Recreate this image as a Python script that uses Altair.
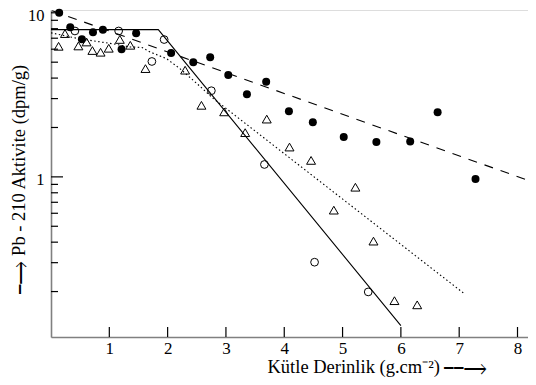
import altair as alt
import pandas as pd

# ---- data ----
filled_x = [0.14, 0.33, 0.53, 0.72, 0.89, 1.21, 1.46, 2.06, 2.44, 2.73, 3.04, 3.36, 3.69, 4.08, 4.49, 5.02, 5.58, 6.16, 6.63, 7.28]
filled_y = [10.0, 8.16, 6.9, 7.6, 7.88, 6.0, 7.5, 5.69, 5.0, 5.36, 4.18, 3.19, 3.8, 2.51, 2.15, 1.75, 1.63, 1.64, 2.48, 0.97]

open_x = [0.41, 1.16, 1.73, 1.94, 2.75, 3.66, 4.52, 5.44]
open_y = [7.75, 7.75, 5.05, 6.87, 3.35, 1.19, 0.302, 0.199]

tri_x = [0.13, 0.24, 0.47, 0.61, 0.71, 0.85, 0.99, 1.18, 1.36, 1.62, 2.30, 2.58, 2.97, 3.33, 3.70, 4.09, 4.46, 4.85, 5.22, 5.53, 5.89, 6.28]
tri_y = [6.25, 7.47, 6.28, 6.64, 5.89, 5.75, 6.08, 6.88, 6.34, 4.57, 4.47, 2.73, 2.49, 1.86, 2.25, 1.52, 1.26, 0.627, 0.865, 0.406, 0.176, 0.166]

solid_x = [0.0, 1.84, 6.0]
solid_y = [7.9, 7.9, 0.124]

dash_x = [0.02, 8.26]
dash_y = [10.3, 0.93]

dot_x = [0.0, 0.47, 1.04, 1.36, 1.56, 1.70, 1.98, 2.21, 2.50, 2.78, 7.08]
dot_y = [7.55, 6.96, 6.49, 6.19, 6.15, 5.77, 5.26, 4.57, 3.71, 3.01, 0.195]

x_ticks = [1, 2, 3, 4, 5, 6, 7, 8]
y_major = [1, 10]
y_minor = [0.2, 0.3, 0.4, 0.5, 0.6, 0.7, 0.8, 0.9, 2, 3, 4, 5, 6, 7, 8, 9]

FONT = "Liberation Serif"
W, H = 477, 327

xs = alt.Scale(domain=[0, 8.18], nice=False, zero=False)
ys = alt.Scale(type="log", domain=[0.1057, 10.4], nice=False)

def df(x, y):
    return pd.DataFrame({"x": x, "y": y})

X0 = alt.X("x:Q", scale=xs)
Y0 = alt.Y("y:Q", scale=ys)

xaxis = alt.Axis(values=x_ticks, ticks=False, tickSize=0, grid=False, labelFont=FONT,
                 labelFontSize=17, labelColor="black", labelPadding=3, labelFlush=False,
                 format="d", domainColor="#808080", domainWidth=1.6,
                 title="Kütle Derinlik (g.cm⁻²) ⎯⎯⟶", titleFont=FONT, titleFontSize=18.5,
                 titleFontWeight="normal", titleColor="black", titleAlign="left",
                 titleAnchor="start", titleX=216, titleY=35, titleBaseline="alphabetic")
yaxis = alt.Axis(values=y_major, ticks=False, tickSize=0, grid=False, labelFont=FONT,
                 labelFontSize=16.5, labelColor="black", labelPadding=7, labelOffset=3,
                 labelFlush=False, format="d", domainColor="#808080", domainWidth=1.6,
                 title="⎯⟶ Pb - 210 Aktivite (dpm/g)", titleFont=FONT, titleFontSize=18.5,
                 titleFontWeight="normal", titleColor="black", titleAngle=270,
                 titleAlign="left", titleX=-27, titleY=283, titleBaseline="alphabetic")

filled = alt.Chart(df(filled_x, filled_y)).mark_point(
    shape="circle", filled=True, size=64, color="black", opacity=1
).encode(x=alt.X("x:Q", scale=xs, axis=xaxis), y=alt.Y("y:Q", scale=ys, axis=yaxis))

opn = alt.Chart(df(open_x, open_y)).mark_point(
    shape="circle", filled=False, size=60, color="black", strokeWidth=1, opacity=1
).encode(x=X0, y=Y0)

tri = alt.Chart(df(tri_x, tri_y)).mark_point(
    shape="triangle-up", filled=False, size=80, color="black", strokeWidth=1, opacity=1
).encode(x=X0, y=Y0)

solid = alt.Chart(df(solid_x, solid_y)).mark_line(color="black", strokeWidth=1.1, clip=True).encode(x=X0, y=Y0)
dashed = alt.Chart(df(dash_x, dash_y)).mark_line(color="black", strokeWidth=1.1, strokeDash=[9, 8], clip=True).encode(x=X0, y=Y0)
dotted = alt.Chart(df(dot_x, dot_y)).mark_line(color="black", strokeWidth=1.1, strokeDash=[1.5, 2.5], clip=True).encode(x=X0, y=Y0)

xt = alt.Chart(pd.DataFrame({"x": x_ticks})).mark_rule(color="black", strokeWidth=1.2).encode(
    x=X0, y=alt.value(H), y2=alt.value(H - 10))
ymaj = alt.Chart(pd.DataFrame({"y": y_major})).mark_rule(color="black", strokeWidth=1.2).encode(
    y=Y0, x=alt.value(0), x2=alt.value(12))
ymin = alt.Chart(pd.DataFrame({"y": y_minor})).mark_rule(color="black", strokeWidth=1.2).encode(
    y=Y0, x=alt.value(0), x2=alt.value(7))

chart = alt.layer(filled, solid, dashed, dotted, opn, tri, xt, ymaj, ymin).properties(
    width=W, height=H,
    autosize=alt.AutoSizeParams(type="none"),
    padding={"left": 43, "top": 2, "right": 0, "bottom": 40},
).configure_view(stroke=None).configure(background="white")

chart.save("out.html", embed_options={"renderer": "svg", "actions": False})
